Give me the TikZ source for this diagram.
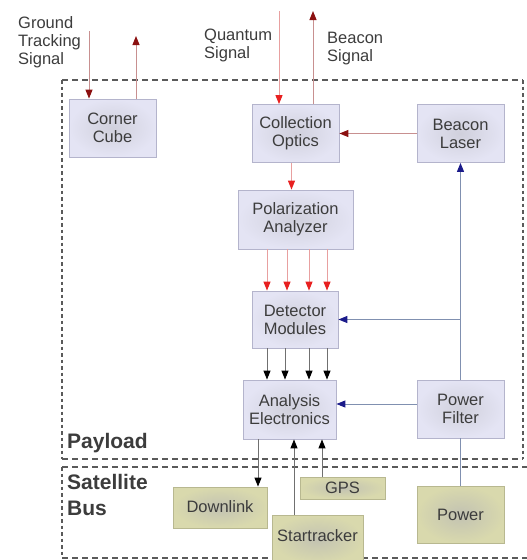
\documentclass[tikz,border=0pt]{standalone}
\usepackage{fontspec}
\setmainfont{Liberation Sans}
\usetikzlibrary{arrows.meta}
\definecolor{txt}{HTML}{3C3C3C}
\definecolor{frame}{HTML}{5A5A5A}
\definecolor{pout}{HTML}{E4E4F4}
\definecolor{pin}{HTML}{D0D0DC}
\definecolor{pdraw}{HTML}{B4B4CC}
\definecolor{bout}{HTML}{D9D9AD}
\definecolor{bin}{HTML}{C2C2B2}
\definecolor{bdraw}{HTML}{B8B890}
\definecolor{dredline}{HTML}{C89090}
\definecolor{dredhead}{HTML}{8B1010}
\definecolor{redline}{HTML}{E8A0A0}
\definecolor{redhead}{HTML}{E82020}
\definecolor{blueline}{HTML}{8090B0}
\definecolor{bluehead}{HTML}{1A1A8A}
\definecolor{blkline}{HTML}{707070}
\tikzset{
  lbl/.style={font=\fontsize{16.5}{18}\selectfont, text=txt, align=left, inner sep=0pt, anchor=north west},
  biglbl/.style={font=\fontsize{21}{26}\selectfont\bfseries, text=txt, align=left, inner sep=0pt},
  pbox/.style={draw=pdraw, line width=0.8pt, inner color=pin, outer color=pout, inner sep=0pt, align=center,
     font=\fontsize{16.5}{18}\selectfont, text=txt, minimum width=87pt, minimum height=58pt},
  bbox/.style={draw=bdraw, line width=0.8pt, inner color=bin, outer color=bout, inner sep=0pt, align=center,
     font=\fontsize{16.5}{18}\selectfont, text=txt},
  hregion/.style={draw=frame, line width=2.6pt, dash pattern=on 6pt off 4pt},
  vregion/.style={draw=frame, line width=2.6pt, dash pattern=on 3.5pt off 3pt},
  darr/.style={draw=dredline, line width=1pt, -{Triangle[length=9pt,width=7pt,color=dredhead]}},
  rarr/.style={draw=redline, line width=1pt, -{Triangle[length=9pt,width=7pt,color=redhead]}},
  barr/.style={draw=blueline, line width=1pt, -{Triangle[length=9pt,width=7pt,color=bluehead]}},
  karr/.style={draw=blkline, line width=1pt, -{Triangle[length=9pt,width=7pt,color=black]}},
  bline/.style={draw=blueline, line width=1pt},
}
\begin{document}
\begin{tikzpicture}[x=1pt,y=-1pt]
\useasboundingbox (0,0) rectangle (527,560);
% regions
\draw[hregion] (62,80) -- (523,80);
\draw[hregion] (62,459) -- (523,459);
\draw[vregion] (62,80) -- (62,459);
\draw[vregion] (523,80) -- (523,459);
\draw[hregion] (62,467) -- (540,467);
\draw[hregion] (62,558) -- (540,558);
\draw[vregion] (62,467) -- (62,558);
% labels
\node[lbl] (lgt) at (18,16) {Ground\\Tracking\\Signal};
\node[lbl] (lqs) at (204,29) {Quantum\\Signal};
\node[lbl] (lbs) at (327,32) {Beacon\\Signal};
\node[biglbl, anchor=base west] (lpl) at (67,448) {Payload};
\node[biglbl, anchor=north west] (lsb) at (67,474) {Satellite\\Bus};
% payload boxes
\node[pbox] (cc) at (112.5,128) {Corner\\Cube};
\node[pbox] (co) at (295.5,133.5) {Collection\\Optics};
\node[pbox] (bl) at (460.5,133.5) {Beacon\\Laser};
\node[pbox, minimum width=115pt, minimum height=59pt] (pa) at (295.5,219.5) {Polarization\\Analyzer};
\node[pbox, minimum width=86pt, minimum height=57pt] (dm) at (295,319.5) {Detector\\Modules};
\node[pbox, minimum width=93pt, minimum height=59pt] (ae) at (289.5,409.5) {Analysis\\Electronics};
\node[pbox] (pf) at (460.5,409) {Power\\Filter};
% bus boxes
\node[bbox, minimum width=94pt, minimum height=41pt] (dl) at (220,507.5) {\raisebox{2pt}{Downlink}};
\node[bbox, minimum width=85pt, minimum height=22pt] (gps) at (342.5,488) {GPS};
\node[bbox, minimum width=91pt, minimum height=48pt, text depth=0pt] (st) at (317.5,539) {\raisebox{6pt}{Startracker}};
\node[bbox, minimum width=87pt, minimum height=57pt] (pw) at (460.5,514.5) {Power};
% external signals
\coordinate (gtin) at (89,31);
\coordinate (gtout) at (136,36);
\coordinate (qsin) at (279,11);
\coordinate (bsout) at (313,11);
\draw[darr] (gtin) -- (gtin |- cc.north);
\draw[darr] (gtout |- cc.north) -- (gtout);
\draw[rarr] (qsin) -- (qsin |- co.north);
\draw[darr] (bsout |- co.north) -- (bsout);
% optical chain
\draw[darr] (bl.west) -- (co.east);
\draw[rarr] ([xshift=-4pt]co.south) -- ([xshift=-4pt]co.south |- pa.north);
\foreach \dx in {-28.5,-8.5,13.5,31.5}
  \draw[rarr] ([xshift=\dx pt]pa.south) -- ([xshift=\dx pt]pa.south |- dm.north);
\foreach \dx in {-28,-10,14,32}
  \draw[karr] ([xshift=\dx pt]dm.south) -- ([xshift=\dx pt]dm.south |- ae.north);
% power distribution
\draw[bline] (pw.north) -- (pf.south);
\draw[barr] (pf.north) -- (bl.south);
\draw[barr] (pf.north |- dm.east) -- (dm.east);
\draw[barr] ([yshift=5pt]pf.west) -- ([yshift=5pt]pf.west -| ae.east);
% bus connections
\draw[karr] ([xshift=-31.5pt]ae.south) -- ([xshift=-31.5pt]ae.south |- dl.north);
\draw[karr] ([xshift=-23.5pt]st.north) -- ([xshift=-23.5pt]st.north |- ae.south);
\draw[karr] ([xshift=-20.5pt]gps.north) -- ([xshift=-20.5pt]gps.north |- ae.south);
\end{tikzpicture}
\end{document}
